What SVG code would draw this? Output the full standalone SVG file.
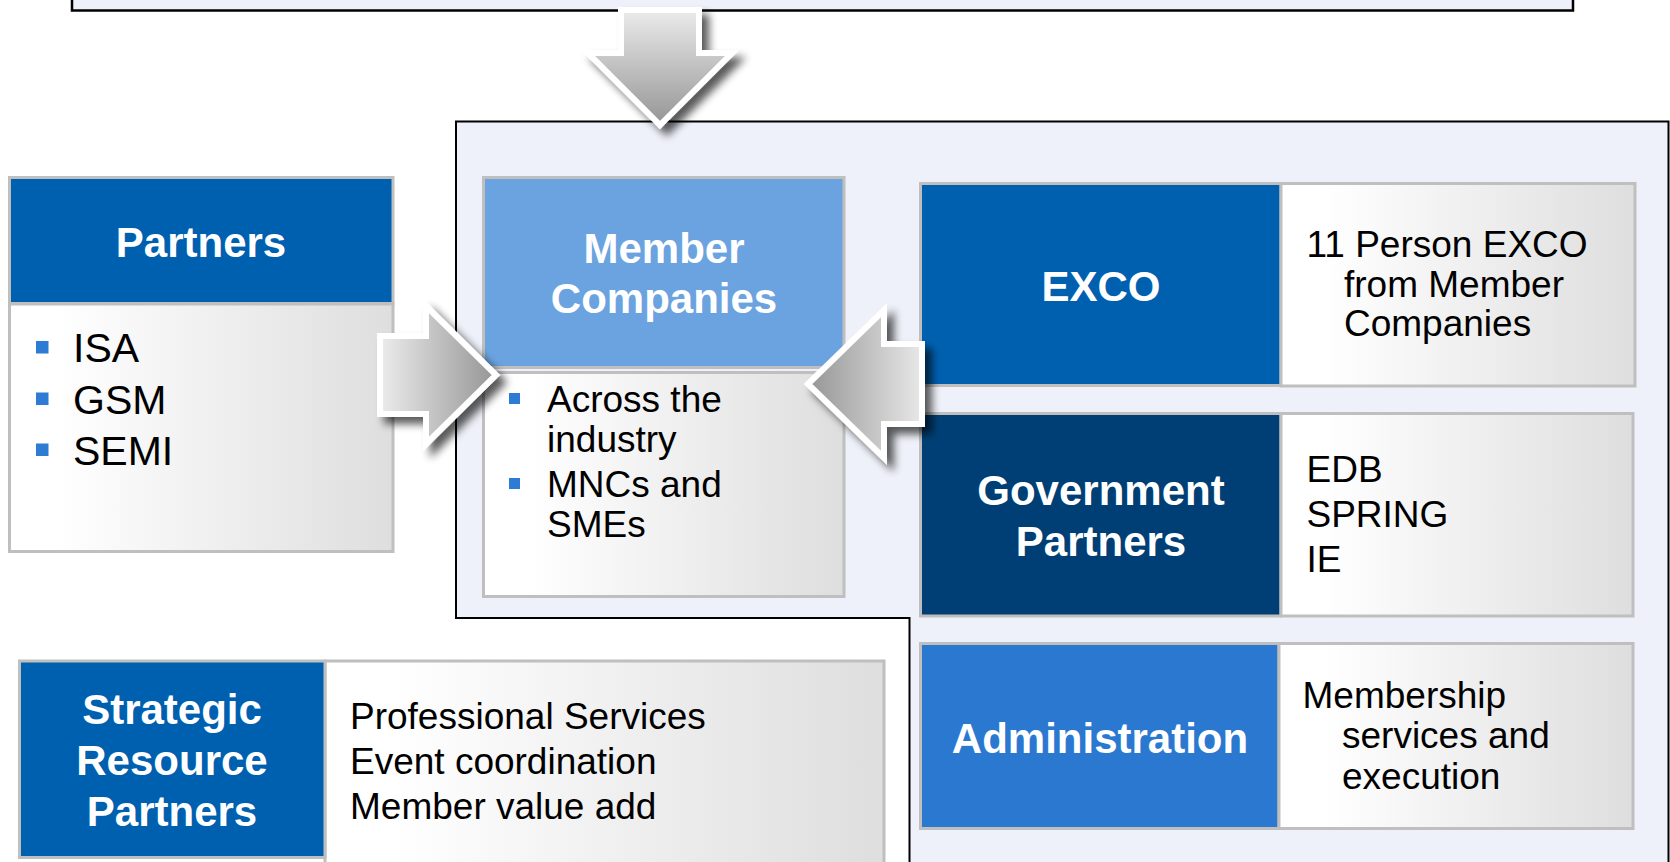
<svg xmlns="http://www.w3.org/2000/svg" width="1670" height="862" viewBox="0 0 1670 862">
<defs>
<style>
.hd{font-family:"Liberation Sans",Arial,sans-serif;font-weight:bold;font-size:42px;fill:#fff;text-anchor:middle}
.tx{font-family:"Liberation Sans",Arial,sans-serif;font-size:37px;fill:#000}
.lg{font-family:"Liberation Sans",Arial,sans-serif;font-size:41px;fill:#000}
.bx{stroke:#bfbfbf;stroke-width:3}
.body{fill:url(#gBody);stroke:#bfbfbf;stroke-width:3}
.bul{fill:#2e7bd6}
.arr{stroke:#fff;stroke-width:6;stroke-linejoin:miter;filter:url(#sh)}
</style>
<linearGradient id="gBody" x1="0" y1="0" x2="1" y2="0">
<stop offset="0" stop-color="#ffffff"/>
<stop offset="0.12" stop-color="#ffffff"/>
<stop offset="1" stop-color="#dedede"/>
</linearGradient>
<linearGradient id="gRight" x1="0" y1="0" x2="1" y2="0">
<stop offset="0" stop-color="#ececec"/>
<stop offset="1" stop-color="#959595"/>
</linearGradient>
<linearGradient id="gLeft" x1="1" y1="0" x2="0" y2="0">
<stop offset="0" stop-color="#e8e8e8"/>
<stop offset="1" stop-color="#959595"/>
</linearGradient>
<linearGradient id="gDown" x1="0" y1="0" x2="0" y2="1">
<stop offset="0" stop-color="#ebebeb"/>
<stop offset="1" stop-color="#959595"/>
</linearGradient>
<filter id="sh" x="-30%" y="-30%" width="170%" height="170%">
<feGaussianBlur in="SourceAlpha" stdDeviation="4.5"/>
<feOffset dx="7" dy="7"/>
<feComponentTransfer><feFuncA type="linear" slope="0.65"/></feComponentTransfer>
<feMerge><feMergeNode/><feMergeNode in="SourceGraphic"/></feMerge>
</filter>
</defs>
<rect x="0" y="0" width="1670" height="862" fill="#fff"/>

<g id="top-box">
<rect x="72" y="-10" width="1501" height="20.5" fill="#eef1f9" stroke="#000" stroke-width="2.5"/>
</g>

<g id="container">
<path d="M456,121.5 H1668.5 V875 H909.5 V618 H456 Z" fill="#eef1f9" stroke="#000" stroke-width="2"/>
</g>

<g id="partners">
<rect class="bx" x="9.5" y="177.5" width="383.5" height="126" fill="#0060b0"/>
<rect class="body" x="9.5" y="304" width="383.5" height="247.5"/>
<text class="hd" x="201" y="257">Partners</text>
<rect class="bul" x="36" y="341" width="12.5" height="12.5"/>
<rect class="bul" x="36" y="392.5" width="12.5" height="12.5"/>
<rect class="bul" x="36" y="443.5" width="12.5" height="12.5"/>
<text class="lg" x="73" y="361.5">ISA</text>
<text class="lg" x="73" y="413.5">GSM</text>
<text class="lg" x="73" y="465">SEMI</text>
</g>

<g id="member-companies">
<rect class="bx" x="483.5" y="177.5" width="360.5" height="190" fill="#6aa3df"/>
<rect class="body" x="483.5" y="372.5" width="360.5" height="224"/>
<text class="hd" x="664" y="263">Member</text>
<text class="hd" x="664" y="313">Companies</text>
<rect class="bul" x="509" y="393" width="11" height="11"/>
<rect class="bul" x="509" y="478" width="11" height="11"/>
<text class="tx" x="547" y="411.5">Across the</text>
<text class="tx" x="547" y="451.5">industry</text>
<text class="tx" x="547" y="496.5">MNCs and</text>
<text class="tx" x="547" y="536.5">SMEs</text>
</g>

<g id="exco">
<rect class="bx" x="920.5" y="183.5" width="360.5" height="202" fill="#0060b0"/>
<rect class="body" x="1281" y="183.5" width="354" height="202.5"/>
<text class="hd" x="1101" y="300.5">EXCO</text>
<text class="tx" x="1306.5" y="256.5">11 Person EXCO</text>
<text class="tx" x="1344" y="296.5">from Member</text>
<text class="tx" x="1344" y="336">Companies</text>
</g>

<g id="government-partners">
<rect class="bx" x="920.5" y="413.5" width="360.5" height="202.5" fill="#003f75"/>
<rect class="body" x="1281" y="413.5" width="352" height="202.5"/>
<text class="hd" x="1101" y="505">Government</text>
<text class="hd" x="1101" y="556">Partners</text>
<text class="tx" x="1306.5" y="481.5">EDB</text>
<text class="tx" x="1306.5" y="526.5">SPRING</text>
<text class="tx" x="1306.5" y="571.5">IE</text>
</g>

<g id="administration">
<rect class="bx" x="920.5" y="643.5" width="358.5" height="185" fill="#2b78d0"/>
<rect class="body" x="1279" y="643.5" width="354" height="185"/>
<text class="hd" x="1100" y="752.5">Administration</text>
<text class="tx" x="1302.5" y="707.5">Membership</text>
<text class="tx" x="1342" y="747.5">services and</text>
<text class="tx" x="1342" y="788.5">execution</text>
</g>

<g id="strategic-resource-partners">
<rect class="body" x="325" y="661" width="559" height="215"/>
<rect class="bx" x="19.5" y="661" width="305.5" height="196.5" fill="#0060b0"/>
<text class="hd" x="172" y="724">Strategic</text>
<text class="hd" x="172" y="775">Resource</text>
<text class="hd" x="172" y="826">Partners</text>
<text class="tx" x="350" y="728.5">Professional Services</text>
<text class="tx" x="350" y="773.5">Event coordination</text>
<text class="tx" x="350" y="818.5">Member value add</text>
</g>

<g id="connectors">
<polygon class="arr" fill="url(#gDown)" points="621,10 699,10 699,53 732,53 660,125 588,53 621,53"/>
<polygon class="arr" fill="url(#gRight)" points="380,336 426,336 426,306 496,375 426,444 426,414 380,414"/>
<polygon class="arr" fill="url(#gLeft)" points="808,384 884,310 884,344 922,344 922,424 884,424 884,458"/>
</g>
</svg>
